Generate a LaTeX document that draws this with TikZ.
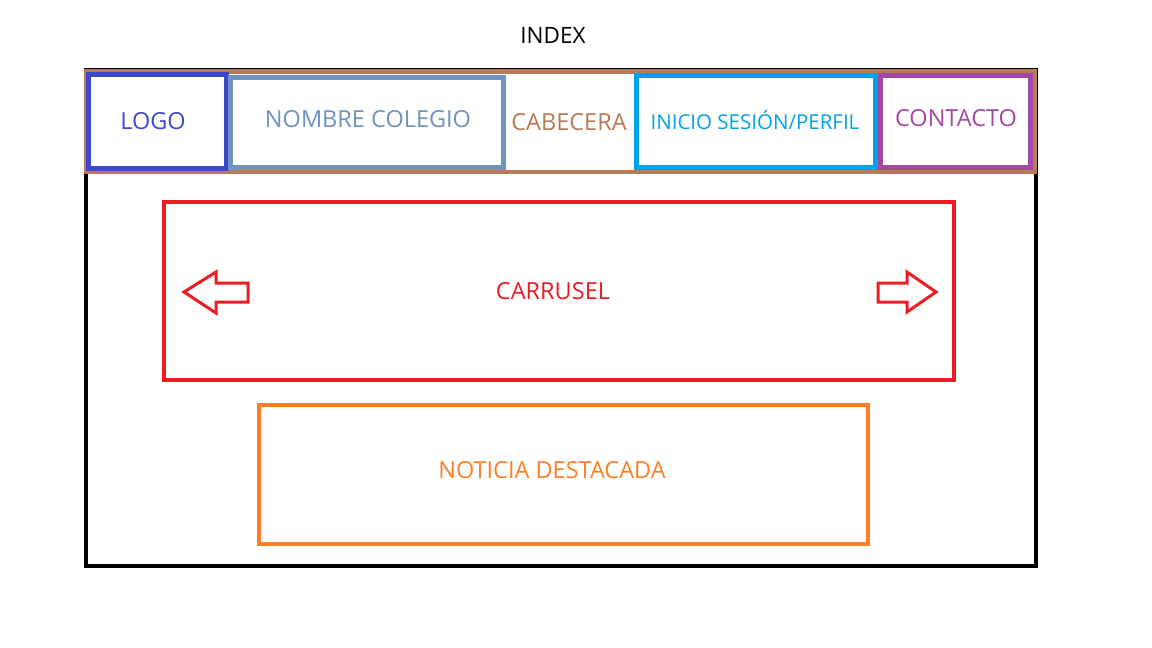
\documentclass[tikz,border=0pt]{standalone}
\usepackage{fontspec}
\setmainfont{Open Sans}
\definecolor{cblue}{HTML}{3F48CC}
\definecolor{csteel}{HTML}{7092BE}
\definecolor{cbrown}{HTML}{B97A57}
\definecolor{ccyan}{HTML}{00A2E8}
\definecolor{cpurple}{HTML}{A349A4}
\definecolor{cred}{HTML}{ED1C24}
\definecolor{corange}{HTML}{FF7F27}
\tikzset{
  lbl/.style={inner sep=0pt, font=\fontsize{23.5}{26}\selectfont},
  hbox/.style={line width=5pt},
  arrowshape/.style={draw=cred, line width=3pt, line join=miter},
}
\begin{document}
\begin{tikzpicture}[x=1pt,y=-1pt]
\useasboundingbox (0,0) rectangle (1152,648);
\fill[white] (0,0) rectangle (1152,648);
% outer frame
\draw[line width=4pt] (86,70) rectangle (1036,566);
% header band
\draw[cbrown, line width=4.5pt, fill=white] (86,71.5) rectangle (1035,172);
% header boxes
\draw[hbox, cblue] (88,74) rectangle (226,168);
\draw[hbox, csteel] (230.5,77) rectangle (503,167);
\draw[hbox, ccyan] (636,75) rectangle (875,167);
\draw[hbox, cpurple] (880.5,75.5) rectangle (1030.5,167);
% carousel and news
\draw[cred, line width=4pt] (164,202) rectangle (954,380);
\draw[corange, line width=4pt] (259,405) rectangle (868,544);
% arrows
\draw[arrowshape] (184,292) -- (216,272) -- (216,283) -- (248,283) -- (248,302) -- (216,302) -- (216,313) -- cycle;
\draw[arrowshape] (878,283) -- (907,283) -- (907,272) -- (936,292) -- (907,312) -- (907,302) -- (878,302) -- cycle;
% texts
\node[lbl, font=\fontsize{22.5}{25}\selectfont] (index) at (553,35) {INDEX};
\node[lbl, text=cblue] (logo) at (153,121) {LOGO};
\node[lbl, text=csteel] (nombre) at (368,119) {NOMBRE COLEGIO};
\node[lbl, text=cbrown] (cabecera) at (569,122) {CABECERA};
\node[lbl, text=ccyan, font=\fontsize{20.5}{23}\selectfont] (inicio) at (755,120) {INICIO SESIÓN/PERFIL};
\node[lbl, text=cpurple] (contacto) at (956,118) {CONTACTO};
\node[lbl, text=cred] (carrusel) at (553,291) {CARRUSEL};
\node[lbl, text=corange] (noticia) at (552,470) {NOTICIA DESTACADA};
\end{tikzpicture}
\end{document}
